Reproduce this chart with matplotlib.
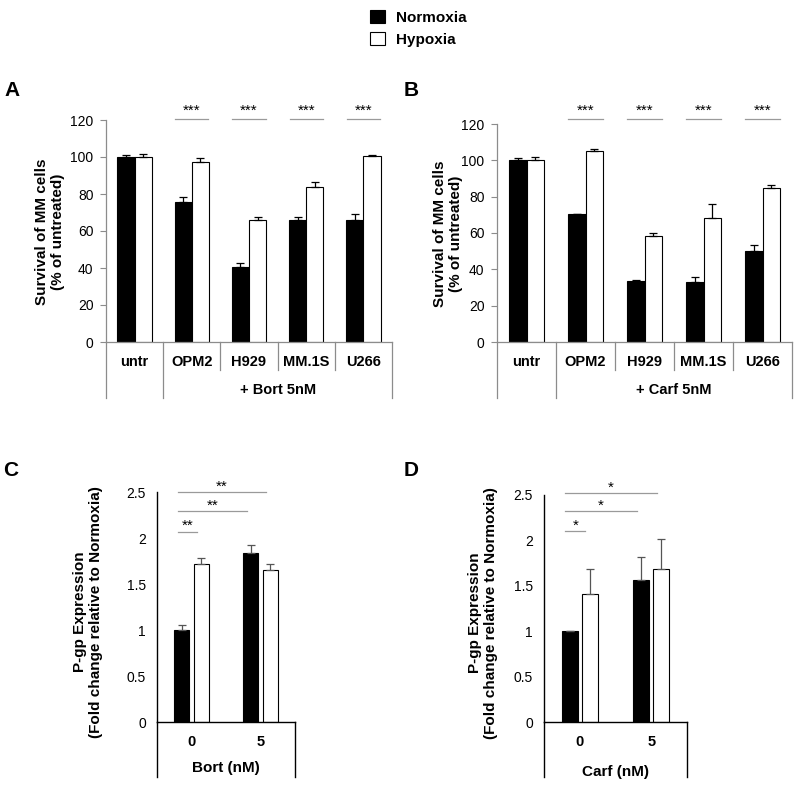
import numpy as np
import matplotlib
matplotlib.use("Agg")
import matplotlib.pyplot as plt
from matplotlib.transforms import blended_transform_factory

plt.rcParams["font.family"] = ["Liberation Sans", "DejaVu Sans"]

W, H = 797, 785

# ---- data ----
cell_lines = ["untr", "OPM2", "H929", "MM.1S", "U266"]

bort_norm = [100.0, 75.5, 40.3, 66.0, 66.2]
bort_norm_err = [0.9, 3.0, 2.2, 1.4, 3.2]
bort_hyp = [100.0, 97.5, 66.0, 84.0, 100.7]
bort_hyp_err = [1.4, 2.0, 1.7, 2.7, 0.3]

carf_norm = [100.0, 70.3, 33.5, 33.1, 50.1]
carf_norm_err = [1.1, 0.3, 0.9, 2.8, 3.1]
carf_hyp = [100.0, 104.9, 58.5, 68.1, 85.0]
carf_hyp_err = [1.6, 1.3, 1.7, 7.7, 1.3]

doses = ["0", "5"]
pgp_bort_norm = [1.0, 1.835]
pgp_bort_norm_err = [0.05, 0.085]
pgp_bort_hyp = [1.715, 1.65]
pgp_bort_hyp_err = [0.073, 0.07]

pgp_carf_norm = [1.0, 1.56]
pgp_carf_norm_err = [0.0, 0.255]
pgp_carf_hyp = [1.415, 1.69]
pgp_carf_hyp_err = [0.273, 0.327]


def rect(l, t, r, b):
    # pixel box -> figure fraction
    return [l / W, 1 - b / H, (r - l) / W, (b - t) / H]


def fy(box, py):
    # figure pixel y -> axes fraction of that box
    l, t, r, b = box
    return (b - py) / (b - t)


fig = plt.figure(figsize=(W / 100, H / 100), dpi=100)


def survival_panel(box, norm, norm_err, hyp, hyp_err, drug, sig_y, letter, lx, ly, ylab_xy):
    ax = fig.add_axes(rect(*box))
    x = np.arange(len(cell_lines))
    w = 0.3
    bn = ax.bar(x - w / 2, norm, w, color="black", edgecolor="black", linewidth=0.8)
    bh = ax.bar(x + w / 2, hyp, w, color="white", edgecolor="black", linewidth=0.8)
    ax.errorbar(x - w / 2, norm, yerr=[np.zeros(len(x)), norm_err], fmt="none",
                ecolor="black", elinewidth=0.9, capsize=3, capthick=0.9)
    ax.errorbar(x + w / 2, hyp, yerr=[np.zeros(len(x)), hyp_err], fmt="none",
                ecolor="black", elinewidth=0.9, capsize=3, capthick=0.9)
    ax.set_xlim(-0.5, len(x) - 0.5)
    ax.set_ylim(0, 120)
    ax.set_yticks(np.arange(0, 121, 20))
    ax.set_xticks([])
    for s in ["top", "right"]:
        ax.spines[s].set_visible(False)
    for s in ["left", "bottom"]:
        ax.spines[s].set_color("#8c8c8c")
        ax.spines[s].set_linewidth(0.9)
    ax.tick_params(axis="y", length=4, width=0.8, color="#8c8c8c", pad=5, labelsize=10)

    tr = blended_transform_factory(ax.transData, ax.transAxes)
    y_in = fy(box, 370)
    y_out = fy(box, 398)
    for i in range(len(x) + 1):
        xb = i - 0.5
        yb = y_out if i in (0, 1, len(x)) else y_in
        ax.plot([xb, xb], [0, yb], transform=tr, color="#8c8c8c", lw=0.9, clip_on=False)
    for i, name in enumerate(cell_lines):
        ax.text(i, fy(box, 362), name, transform=tr, ha="center", va="center",
                fontsize=10.5, fontweight="bold")
    ax.text((1 + len(x) - 1) / 2, fy(box, 390), "+ " + drug + " 5nM", transform=tr,
            ha="center", va="center", fontsize=10.5, fontweight="bold")

    # significance marks
    for i in range(1, len(x)):
        ax.plot([i - 0.29, i + 0.29], [sig_y, sig_y], color="#9a9a9a", lw=0.9, clip_on=False)
        ax.annotate("***", xy=(i, sig_y), xytext=(0, 6), textcoords="offset points",
                    ha="center", va="center", fontsize=11, annotation_clip=False)

    fig.text(lx / W, 1 - ly / H, letter, fontsize=15, fontweight="bold", ha="left", va="center")
    fig.text(ylab_xy[0] / W, 1 - ylab_xy[1] / H, "Survival of MM cells\n(% of untreated)",
             rotation=90, ha="center", va="center", fontsize=11, fontweight="bold",
             linespacing=1.15)
    return bn, bh


def pgp_panel(box, norm, norm_err, hyp, hyp_err, drug, star, letter, lx, ly, ylab_xy,
              sig_ys, label_y):
    ax = fig.add_axes(rect(*box))
    x = np.arange(len(doses))
    w = 0.22
    off = 0.14
    ax.bar(x - off, norm, w, color="black", edgecolor="black", linewidth=0.8)
    ax.bar(x + off, hyp, w, color="white", edgecolor="black", linewidth=0.8)
    ax.errorbar(x - off, norm, yerr=[np.zeros(len(x)), norm_err], fmt="none",
                ecolor="#555555", elinewidth=0.9, capsize=3, capthick=0.9)
    ax.errorbar(x + off, hyp, yerr=[np.zeros(len(x)), hyp_err], fmt="none",
                ecolor="#555555", elinewidth=0.9, capsize=3, capthick=0.9)
    ax.set_xlim(-0.5, 1.5)
    ax.set_ylim(0, 2.5)
    ax.set_yticks([0, 0.5, 1, 1.5, 2, 2.5])
    ax.set_yticklabels(["0", "0.5", "1", "1.5", "2", "2.5"])
    ax.set_xticks([])
    for s in ["top", "right"]:
        ax.spines[s].set_visible(False)
    for s in ["left", "bottom"]:
        ax.spines[s].set_linewidth(1.0)
    ax.tick_params(axis="y", length=0, pad=8, labelsize=10)

    tr = blended_transform_factory(ax.transData, ax.transAxes)
    yb = fy(box, 777)
    ax.plot([-0.5, -0.5], [0, yb], transform=tr, color="black", lw=1.0, clip_on=False)
    ax.plot([1.5, 1.5], [0, yb], transform=tr, color="black", lw=1.0, clip_on=False)
    for i, d in enumerate(doses):
        ax.text(i, fy(box, 742), d, transform=tr, ha="center", va="center",
                fontsize=10.5, fontweight="bold")
    ax.text(0.5, fy(box, label_y), drug + " (nM)", transform=tr, ha="center", va="center",
            fontsize=11, fontweight="bold")

    # comparisons against normoxia at 0 nM
    x0 = 0 - off - 0.06
    ends = [1 + off - 0.06, 1 - off - 0.06, 0 + off - 0.06]
    for xe, ys in zip(ends, sig_ys):
        ax.plot([x0, xe], [ys, ys], color="#9a9a9a", lw=0.9, clip_on=False)
        ax.annotate(star, xy=((x0 + xe) / 2, ys), xytext=(0, 4), textcoords="offset points",
                    ha="center", va="center", fontsize=11, annotation_clip=False)

    fig.text(lx / W, 1 - ly / H, letter, fontsize=15, fontweight="bold", ha="left", va="center")
    fig.text(ylab_xy[0] / W, 1 - ylab_xy[1] / H,
             "P-gp Expression\n(Fold change relative to Normoxia)",
             rotation=90, ha="center", va="center", fontsize=11, fontweight="bold",
             linespacing=1.1)


bn, bh = survival_panel((106, 120, 392, 342), bort_norm, bort_norm_err, bort_hyp, bort_hyp_err,
                        "Bort", 120.3, "A", 4, 91, (50, 232))
survival_panel((497, 124, 792, 342), carf_norm, carf_norm_err, carf_hyp, carf_hyp_err,
               "Carf", 122.7, "B", 404, 91, (448, 234))
pgp_panel((157, 492, 295, 722), pgp_bort_norm, pgp_bort_norm_err, pgp_bort_hyp, pgp_bort_hyp_err,
          "Bort", "**", "C", 3, 471, (88, 612), [2.5, 2.29, 2.07], 768)
pgp_panel((544, 495, 687, 722), pgp_carf_norm, pgp_carf_norm_err, pgp_carf_hyp, pgp_carf_hyp_err,
          "Carf", "*", "D", 404, 471, (483, 613), [2.52, 2.32, 2.10], 772)

fig.legend([bn, bh], ["Normoxia", "Hypoxia"], loc="upper left",
           bbox_to_anchor=(362 / W, 1 - 2 / H), frameon=False, borderpad=0,
           handlelength=1.0, handleheight=1.0, handletextpad=0.7, labelspacing=0.45,
           prop={"weight": "bold", "size": 11})

fig.savefig("out.png", dpi=100)
